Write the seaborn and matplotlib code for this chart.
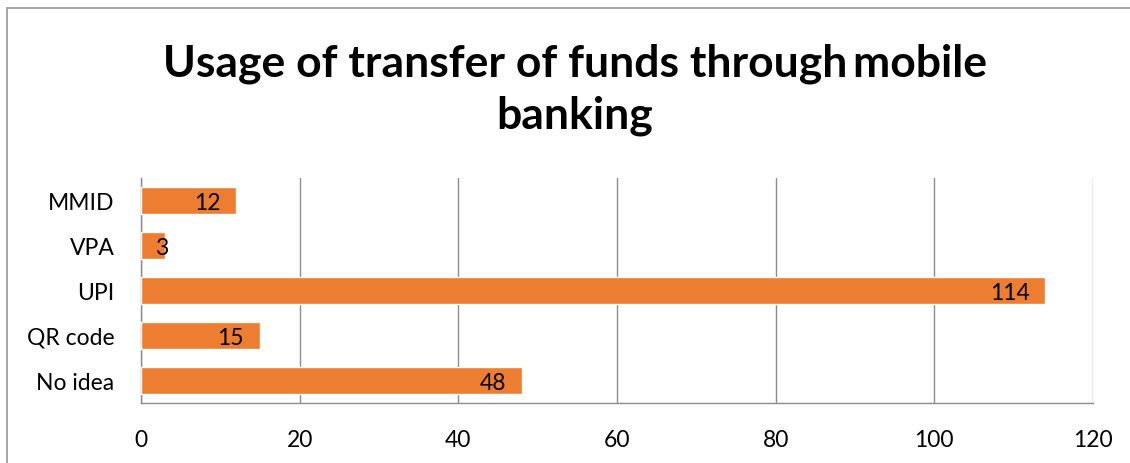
import matplotlib
matplotlib.use("Agg")
import matplotlib.pyplot as plt
from matplotlib.lines import Line2D
import seaborn as sns
import pandas as pd

# Survey responses: mode used for transferring funds via mobile banking
categories = ["MMID", "VPA", "UPI", "QR code", "No idea"]
counts = [12, 3, 114, 15, 48]
x_ticks = [0, 20, 40, 60, 80, 100, 120]

title_lines = ["Usage of transfer of funds through\u2009mobile", "banking"]
bar_color = "#ED7D31"
grid_color = "#8C8C8C"
frame_color = "#A6A6A6"

sns.set_theme(style="white")
plt.rcParams["font.family"] = ["Lato", "DejaVu Sans"]

W, H = 1130, 464
fig = plt.figure(figsize=(W / 100, H / 100), dpi=100)
fig.patch.set_facecolor("white")

# outer chart frame: left and top edges
fx, fy = 7 / W, 1 - 9 / H
fig.lines.append(Line2D([fx, fx], [0, fy], transform=fig.transFigure,
                        color=frame_color, linewidth=1.4))
fig.lines.append(Line2D([fx, 1], [fy, fy], transform=fig.transFigure,
                        color=frame_color, linewidth=1.4))

ax = fig.add_axes([141 / W, 1 - 404 / H, (1093 - 141) / W, (404 - 179) / H])

df = pd.DataFrame({"category": categories, "count": counts})
sns.barplot(data=df, x="count", y="category", orient="h", color=bar_color,
            width=0.59, saturation=1, ax=ax, zorder=3)

ax.set_xlim(x_ticks[0], x_ticks[-1])
ax.set_ylim(len(categories) - 0.5, -0.5)
ax.set_xticks(x_ticks)
ax.set_xticklabels([str(t) for t in x_ticks])
ax.set_xlabel("")
ax.set_ylabel("")

ax.xaxis.grid(True, color=grid_color, linewidth=1.0, zorder=0)
ax.set_axisbelow(True)
for side in ["top", "right"]:
    ax.spines[side].set_visible(False)
for side in ["left", "bottom"]:
    ax.spines[side].set_visible(True)
    ax.spines[side].set_color(grid_color)
    ax.spines[side].set_linewidth(1.0)

label_size = 16.5
ax.tick_params(axis="both", length=0, labelsize=label_size, colors="black")
ax.tick_params(axis="y", pad=19)
ax.tick_params(axis="x", pad=19)

# value labels at the inside end of each bar
px_per_unit = (1093 - 141) / (x_ticks[-1] - x_ticks[0])
for i, v in enumerate(counts):
    if v * px_per_unit > 50:
        ax.annotate(str(v), xy=(v, i), xytext=(-16 * 0.72, -2 * 0.72),
                    textcoords="offset points", ha="right", va="center",
                    fontsize=label_size, color="black", zorder=5)
    else:
        ax.annotate(str(v), xy=(0, i), xytext=(14 * 0.72, -2 * 0.72),
                    textcoords="offset points", ha="left", va="center",
                    fontsize=label_size, color="black", zorder=5)

# two-line bold title
for line, base in zip(title_lines, [77, 128]):
    fig.text(575 / W, 1 - base / H, line, ha="center", va="baseline",
             fontsize=32, fontweight="bold", color="black")

fig.savefig("out.png", dpi=100, facecolor="white")
